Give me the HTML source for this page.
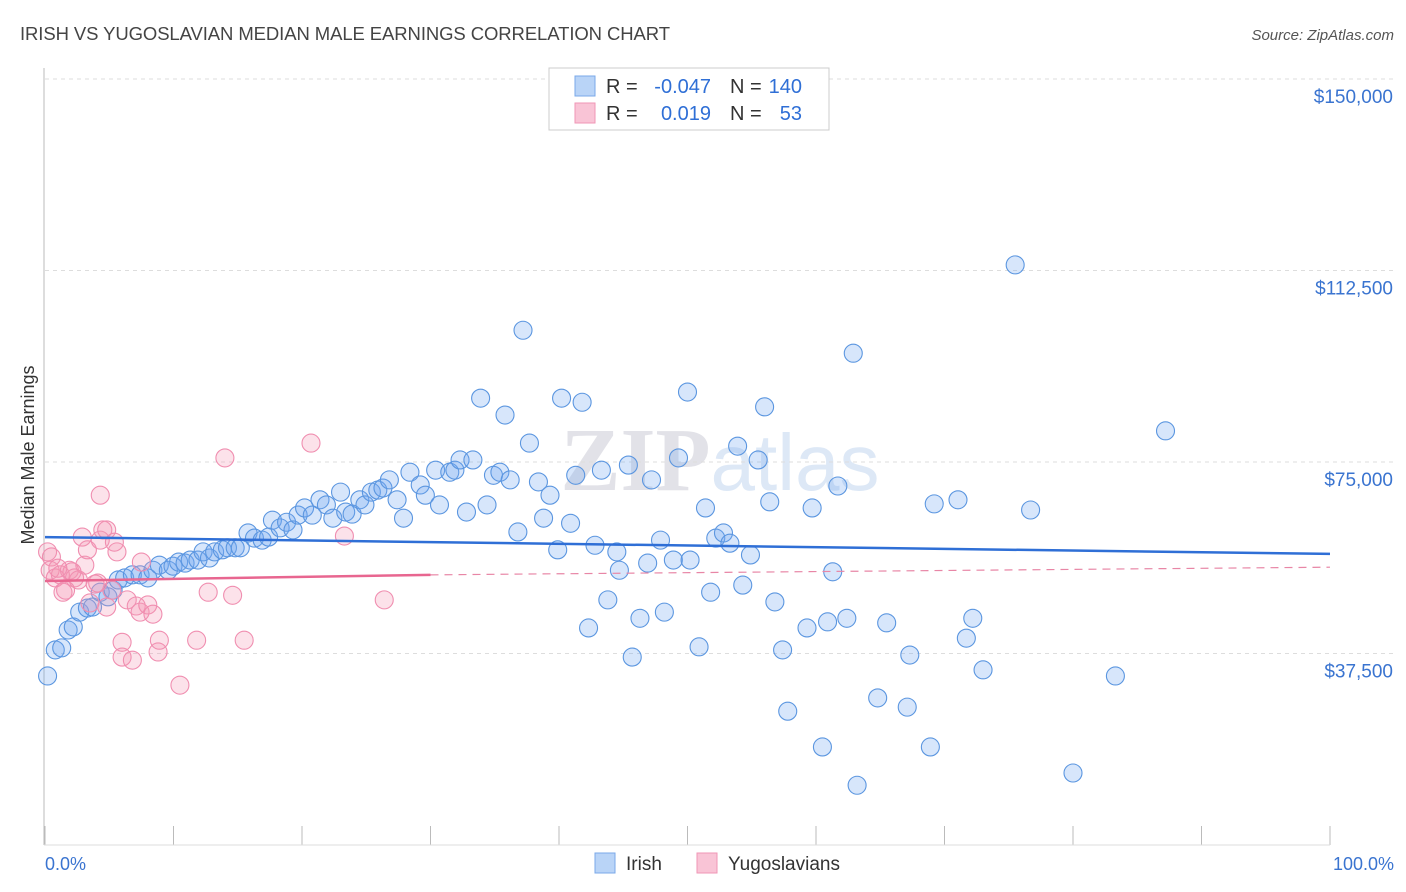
<!DOCTYPE html>
<html><head><meta charset="utf-8"><style>
body{margin:0;background:#fff;font-family:"Liberation Sans",sans-serif}
svg{display:block}
</style></head><body>
<svg id="chart" width="1406" height="892">
<text x="20" y="40" font-size="18.5" fill="#444" textLength="650">IRISH VS YUGOSLAVIAN MEDIAN MALE EARNINGS CORRELATION CHART</text>
<text x="1394" y="40" font-size="15" fill="#555" font-style="italic" text-anchor="end">Source: ZipAtlas.com</text>
<text x="720" y="490" font-size="90" fill="#ececf0" text-anchor="middle" font-family="Liberation Serif"><tspan font-weight="bold" fill="#e2e2e8">ZIP</tspan><tspan fill="#dde8f6" font-family="Liberation Sans" font-size="80">atlas</tspan></text>
<g id="grid"></g>
<line x1="44" y1="68" x2="44" y2="845" stroke="#bbb"/>
<line x1="44" y1="845" x2="1330" y2="845" stroke="#ddd"/>
<text transform="translate(34,455) rotate(-90)" font-size="18" fill="#333" text-anchor="middle">Median Male Earnings</text>
<text x="45" y="870" font-size="18" fill="#3a74d0">0.0%</text>
<text x="1394" y="870" font-size="18" fill="#3a74d0" text-anchor="end">100.0%</text>
<g id="pts"></g>
<g id="lines"></g>
<g>
<rect x="549" y="68" width="280" height="62" fill="#fff" stroke="#ccc"/>
<rect x="575" y="76" width="20" height="20" fill="#b9d4f7" stroke="#7aa8e8"/>
<rect x="575" y="103" width="20" height="20" fill="#f9c4d6" stroke="#f096b6"/>
<text x="606" y="93" font-size="20" fill="#333">R =</text>
<text x="711" y="93" font-size="20" fill="#2f6fd6" text-anchor="end">-0.047</text>
<text x="730" y="93" font-size="20" fill="#333">N =</text>
<text x="802" y="93" font-size="20" fill="#2f6fd6" text-anchor="end">140</text>
<text x="606" y="120" font-size="20" fill="#333">R =</text>
<text x="711" y="120" font-size="20" fill="#2f6fd6" text-anchor="end">0.019</text>
<text x="730" y="120" font-size="20" fill="#333">N =</text>
<text x="802" y="120" font-size="20" fill="#2f6fd6" text-anchor="end">53</text>
</g>
<g>
<rect x="595" y="853" width="20" height="20" fill="#b9d4f7" stroke="#7aa8e8"/>
<text x="626" y="870" font-size="19" fill="#333">Irish</text>
<rect x="697" y="853" width="20" height="20" fill="#f9c4d6" stroke="#f096b6"/>
<text x="728" y="870" font-size="19" fill="#333">Yugoslavians</text>
</g>
</svg>
<script>
const yTicks=[37500,75000,112500,150000];
const yTickLabels=["$37,500","$75,000","$112,500","$150,000"];
const xTicks=[0,10,20,30,40,50,60,70,80,90,100];
const irishX=[0.2,0.8,1.3,1.8,2.2,2.7,3.3,3.7,4.3,4.9,5.3,5.7,6.2,6.8,7.4,8.0,8.4,8.9,9.6,9.96,10.4,10.9,11.3,11.9,12.3,12.8,13.2,13.8,14.2,14.8,15.2,15.8,16.3,16.9,17.4,17.7,18.3,18.8,19.3,19.7,20.2,20.8,21.4,21.9,22.4,23.0,23.4,23.9,24.5,24.9,25.4,25.9,26.3,26.8,27.4,27.9,28.4,29.2,29.6,30.4,30.7,31.5,31.9,32.3,32.8,33.3,33.9,34.4,34.9,35.4,35.8,36.2,36.8,37.2,37.7,38.4,38.8,39.3,39.9,40.2,40.9,41.3,41.8,42.3,42.8,43.3,43.8,44.5,44.7,45.4,45.7,46.3,46.9,47.2,47.9,48.2,48.9,49.3,50.0,50.2,50.9,51.4,51.8,52.2,52.8,53.3,53.9,54.3,54.9,55.5,56.0,56.4,56.8,57.4,57.8,59.3,59.7,60.5,60.9,61.7,61.3,62.4,62.9,63.2,64.8,65.5,67.1,67.3,68.9,69.2,71.05,71.7,72.2,73.0,75.5,76.7,80.0,83.3,87.2];
const irishY=[33.1,38.2,38.6,42.1,42.7,45.6,46.4,46.6,49.5,48.6,49.9,51.9,52.3,52.9,52.9,52.3,53.8,54.8,53.8,54.6,55.4,55.2,55.8,55.8,57.4,56.2,57.4,57.8,58.2,58.2,58.2,61.1,60.1,59.7,60.3,63.6,62.1,63.2,61.7,64.6,66.0,64.6,67.6,66.6,64.0,69.1,65.2,64.8,67.6,66.6,69.1,69.5,69.9,71.5,67.6,64.0,73.0,70.5,68.5,73.4,66.6,73.0,73.4,75.4,65.2,75.4,87.5,66.6,72.4,73.0,84.2,71.5,61.3,100.8,78.7,71.1,64.0,68.5,57.8,87.5,63.0,72.4,86.7,42.5,58.7,73.4,48.0,57.4,53.8,74.4,36.8,44.4,55.2,71.5,59.7,45.6,55.8,75.8,88.7,55.8,38.8,66.0,49.5,60.1,61.1,59.1,78.1,50.9,56.8,75.4,85.8,67.2,47.6,38.2,26.2,42.5,66.0,19.2,43.7,70.3,53.5,44.4,96.3,11.7,28.8,43.5,27.0,37.2,19.2,66.8,67.6,40.5,44.4,34.3,113.6,65.6,14.1,33.1,81.1];
const yugoX=[0.2,0.5,0.4,0.8,1.2,1.4,1.9,2.3,2.6,2.9,3.1,3.3,3.5,3.9,4.1,4.3,4.3,4.5,4.8,4.8,5.2,5.6,5.4,6.0,6.0,6.4,6.8,7.1,7.4,7.5,8.0,8.4,8.8,8.9,10.5,11.8,12.7,14.0,14.6,15.5,20.7,23.3,26.4,1.6,2.1,1.0];
const yugoY=[57.4,56.4,53.8,52.3,52.9,49.5,53.8,52.3,51.9,60.3,54.8,57.8,47.4,51.1,51.3,68.5,59.7,61.7,61.7,46.6,49.9,57.4,59.3,39.7,36.8,48.0,36.2,46.8,45.6,55.4,47.0,45.2,37.8,40.1,31.3,40.1,49.5,75.8,48.9,40.1,78.7,60.5,48.0,49.9,53.5,54.2];
const irishTrend=[[0,60.3],[100,57.0]];
const yugoTrendSolid=[[0,51.7],[30,52.9]];
const yugoTrendDash=[[30,52.9],[100,54.4]];

const NS="http://www.w3.org/2000/svg";
const xs=p=>45+p*12.85;
const ys=v=>845-v/37500*191.5;
const yk=v=>ys(v*1000);
function mk(tag,attrs,parent){const e=document.createElementNS(NS,tag);for(const k in attrs)e.setAttribute(k,attrs[k]);parent.appendChild(e);return e;}
const grid=document.getElementById('grid');
yTicks.forEach((t,i)=>{
 const l=mk('line',{x1:45,x2:1394,y1:ys(t),y2:ys(t),stroke:'#ddd','stroke-dasharray':'4,4'},grid);
 
 
 const tx=mk('text',{x:1393,y:ys(t)+24,'font-size':19,fill:'#3a74d0','text-anchor':'end'},grid);
 tx.textContent=yTickLabels[i];
 
 
});
const topL=mk('line',{x1:45,x2:1394,y1:79,y2:79,stroke:'#ddd','stroke-dasharray':'4,4'},grid);


xTicks.forEach(t=>{
 const l=mk('line',{x1:xs(t),x2:xs(t),y1:826,y2:845,stroke:'#bbb'},grid);
 
 
});
const pts=document.getElementById('pts');
irishX.forEach((x,i)=>{
 const c=mk('circle',{cx:xs(x),cy:yk(irishY[i]),r:9,fill:'rgba(110,165,240,0.28)',stroke:'#5b96e0','stroke-width':1.1},pts);
 
 
});
yugoX.forEach((x,i)=>{
 const c=mk('circle',{cx:xs(x),cy:yk(yugoY[i]),r:9,fill:'rgba(245,150,180,0.28)',stroke:'#f08eb0','stroke-width':1.1},pts);
 
 
});
const lines=document.getElementById('lines');
const l1=mk('line',{x1:xs(irishTrend[0][0]),y1:yk(irishTrend[0][1]),x2:xs(irishTrend[1][0]),y2:yk(irishTrend[1][1]),stroke:'#2f6fd6','stroke-width':2.5},lines);


const l2=mk('line',{x1:xs(yugoTrendSolid[0][0]),y1:yk(yugoTrendSolid[0][1]),x2:xs(yugoTrendSolid[1][0]),y2:yk(yugoTrendSolid[1][1]),stroke:'#e86690','stroke-width':2.5},lines);


const l3=mk('line',{x1:xs(yugoTrendDash[0][0]),y1:yk(yugoTrendDash[0][1]),x2:xs(yugoTrendDash[1][0]),y2:yk(yugoTrendDash[1][1]),stroke:'#e886a6','stroke-width':1.2,'stroke-dasharray':'8,6'},lines);


</script>
</body></html>
